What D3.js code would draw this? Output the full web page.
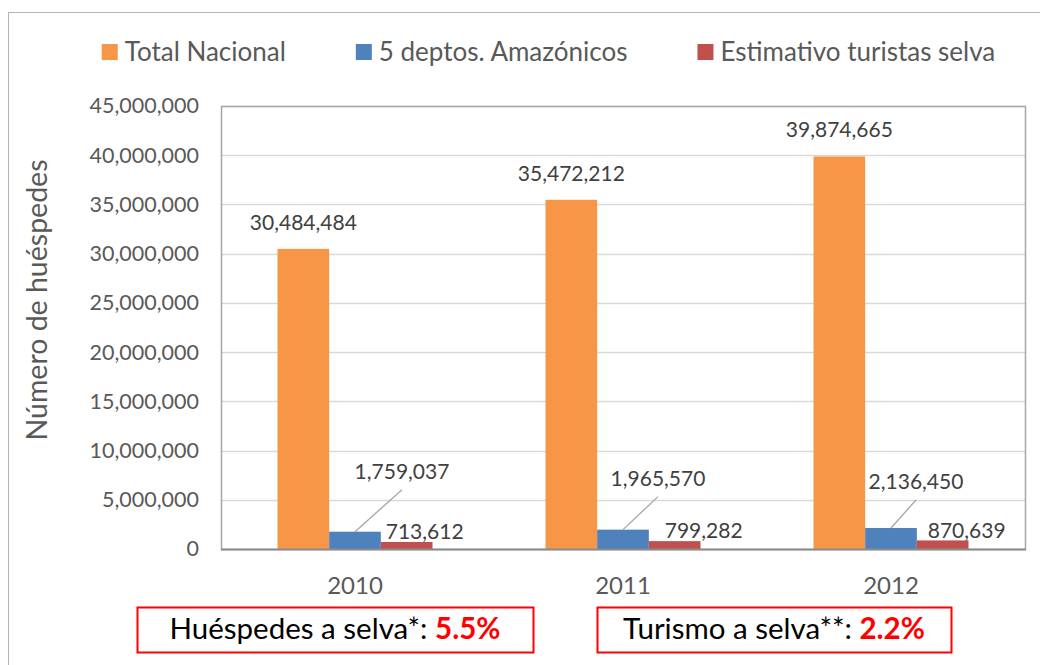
<!DOCTYPE html>
<html>
<head>
<meta charset="utf-8">
<script src="https://cdn.jsdelivr.net/npm/d3@7/dist/d3.min.js"></script>
<style>
  body { margin: 0; background: #fff; }
  text { font-family: Lato, "Open Sans", sans-serif; }
</style>
</head>
<body>
<script>
// chart data
const years = ["2010", "2011", "2012"];
const seriesNames = ["Total Nacional", "5 deptos. Amazónicos", "Estimativo turistas selva"];
const totalNacional = [30484484, 35472212, 39874665];
const amazonicos = [1759037, 1965570, 2136450];
const turistasSelva = [713612, 799282, 870639];
const yTicks = [0, 5000000, 10000000, 15000000, 20000000, 25000000, 30000000, 35000000, 40000000, 45000000];
const noteLabels = ["Huéspedes a selva*: ", "Turismo a selva**: "];
const noteValues = ["5.5%", "2.2%"];

const colors = ["#F79646", "#4F81BD", "#C0504D"];

const w = 1040;
const h = 665;
const plot = { left: 221, right: 1025, top: 106, bottom: 549 };

const svg = d3.select("body").append("svg")
  .attr("width", w)
  .attr("height", h);

// outer chart frame
svg.append("rect")
  .attr("x", 8.5).attr("y", 12.5)
  .attr("width", w).attr("height", h)
  .attr("fill", "none")
  .attr("stroke", "#b3b3b3");

const x0 = d3.scaleBand()
  .domain(years)
  .range([plot.left, plot.right])
  .paddingInner(0.4216)
  .paddingOuter(0.2108);

const x1 = d3.scaleBand()
  .domain(seriesNames)
  .range([0, x0.bandwidth()]);

const y = d3.scaleLinear()
  .domain([0, 45000000])
  .range([plot.bottom, plot.top]);

const fmt = d3.format(",");

// gridlines
svg.append("g")
  .selectAll("line")
  .data(yTicks.slice(1))
  .enter().append("line")
    .attr("x1", plot.left).attr("x2", plot.right)
    .attr("y1", d => Math.round(y(d)) + 0.5)
    .attr("y2", d => Math.round(y(d)) + 0.5)
    .attr("stroke", "#d9d9d9")
    .attr("stroke-width", 1.5);

// plot area border
svg.append("rect")
  .attr("x", plot.left + 0.5).attr("y", plot.top + 0.5)
  .attr("width", plot.right - plot.left).attr("height", plot.bottom - plot.top)
  .attr("fill", "none")
  .attr("stroke", "#a6a6a6")
  .attr("stroke-width", 1.5);

// y axis
const yAxis = d3.axisLeft(y).tickValues(yTicks).tickFormat(fmt).tickSize(0).tickPadding(22);
const yg = svg.append("g")
  .attr("transform", "translate(" + plot.left + ",0)")
  .call(yAxis);
yg.select(".domain").remove();
yg.selectAll("text")
  .style("font-size", "21.5px")
  .attr("fill", "#595959");

// x axis
const xAxis = d3.axisBottom(x0).tickSize(0).tickPadding(28);
const xg = svg.append("g")
  .attr("transform", "translate(0," + plot.bottom + ")")
  .call(xAxis);
xg.select(".domain").remove();
xg.selectAll("text")
  .style("font-size", "24px")
  .attr("fill", "#595959");

// bars
const rows = years.map((yr, i) => ({
  year: yr,
  values: [totalNacional[i], amazonicos[i], turistasSelva[i]]
}));

const groups = svg.append("g").selectAll(".year")
  .data(rows)
  .enter().append("g")
    .classed("year", true)
    .attr("transform", d => "translate(" + x0(d.year) + ",0)");

groups.selectAll("rect")
  .data(d => d.values.map((v, k) => ({ name: seriesNames[k], value: v, k: k })))
  .enter().append("rect")
    .attr("x", d => x1(d.name))
    .attr("y", d => y(d.value))
    .attr("width", x1.bandwidth())
    .attr("height", d => plot.bottom - y(d.value))
    .attr("fill", d => colors[d.k]);

// axis baseline
svg.append("line")
  .attr("x1", plot.left).attr("x2", plot.right + 1)
  .attr("y1", plot.bottom + 0.5).attr("y2", plot.bottom + 0.5)
  .attr("stroke", "#8c8c8c")
  .attr("stroke-width", 2);

// label nudges (layout, Excel moved these callouts by hand)
const blueNudge = [[47, -53], [35, -44], [25, -39]];
const redNudge = [[18, -3], [29, -3], [24, -2]];
const labelSize = "21px";

// orange labels
groups.append("text")
  .attr("x", x1(seriesNames[0]) + x1.bandwidth() / 2)
  .attr("y", (d, i) => y(totalNacional[i]) - 19)
  .attr("text-anchor", "middle")
  .style("font-size", labelSize)
  .attr("fill", "#404040")
  .text((d, i) => fmt(totalNacional[i]));

// blue labels with leader lines
const bx = x1(seriesNames[1]) + x1.bandwidth() / 2;
groups.append("line")
  .attr("x1", bx)
  .attr("y1", (d, i) => y(amazonicos[i]))
  .attr("x2", (d, i) => bx + blueNudge[i][0])
  .attr("y2", (d, i) => y(amazonicos[i]) + blueNudge[i][1] + 11)
  .attr("stroke", "#a6a6a6")
  .attr("stroke-width", 1.3);

groups.append("text")
  .attr("x", (d, i) => bx + blueNudge[i][0])
  .attr("y", (d, i) => y(amazonicos[i]) + blueNudge[i][1])
  .attr("text-anchor", "middle")
  .style("font-size", labelSize)
  .attr("fill", "#404040")
  .text((d, i) => fmt(amazonicos[i]));

// red labels
const rx = x1(seriesNames[2]) + x1.bandwidth() / 2;
groups.append("text")
  .attr("x", (d, i) => rx + redNudge[i][0])
  .attr("y", (d, i) => y(turistasSelva[i]) + redNudge[i][1])
  .attr("text-anchor", "middle")
  .style("font-size", labelSize)
  .attr("fill", "#404040")
  .text((d, i) => fmt(turistasSelva[i]));

// y axis title
svg.append("text")
  .attr("transform", "translate(47,300) rotate(-90)")
  .attr("text-anchor", "middle")
  .style("font-size", "28.5px")
  .attr("fill", "#595959")
  .text("Número de huéspedes");

// legend
const legend = svg.append("g").attr("transform", "translate(0,0)");
let lx = 0;
seriesNames.forEach((name, k) => {
  const item = legend.append("g").attr("transform", "translate(" + lx + ",0)");
  item.append("rect")
    .attr("x", 0).attr("y", 44)
    .attr("width", 16).attr("height", 16)
    .attr("fill", colors[k]);
  const t = item.append("text")
    .attr("x", 23).attr("y", 61)
    .style("font-size", "26px")
    .attr("fill", "#595959")
    .text(name);
  lx += 23 + t.node().getComputedTextLength() + 70;
});
const lw = lx - 70;
legend.attr("transform", "translate(" + (548.5 - lw / 2) + ",0)");

// note boxes
const boxes = [[137, 533], [597, 951]];
boxes.forEach((b, i) => {
  svg.append("rect")
    .attr("x", b[0] + 0.5).attr("y", 607.5)
    .attr("width", b[1] - b[0]).attr("height", 45)
    .attr("fill", "#fff")
    .attr("stroke", "#ff0000")
    .attr("stroke-width", 2);
  const t = svg.append("text")
    .attr("x", (b[0] + b[1]) / 2).attr("y", 639)
    .attr("text-anchor", "middle")
    .style("font-size", "29.5px")
    .attr("fill", "#000");
  t.append("tspan").text(noteLabels[i]);
  t.append("tspan")
    .attr("fill", "#ff0000")
    .attr("font-weight", "bold")
    .text(noteValues[i]);
});
</script>
</body>
</html>
